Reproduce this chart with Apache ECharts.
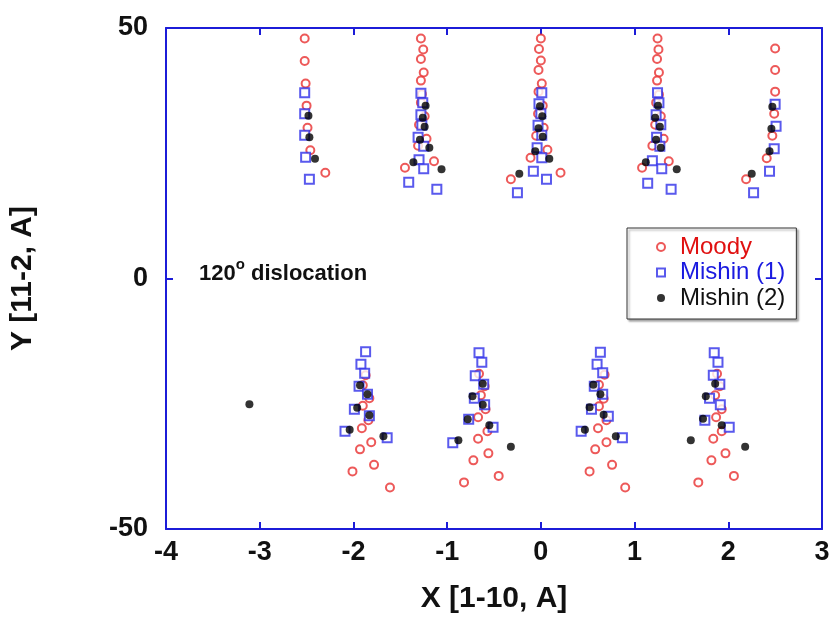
<!DOCTYPE html>
<html>
<head>
<meta charset="utf-8">
<script src="https://cdn.jsdelivr.net/npm/echarts@6/dist/echarts.min.js"></script>
<style>
  html, body { margin: 0; padding: 0; background: #fff; }
  #main { width: 833px; height: 621px; }
</style>
</head>
<body>
<div id="main"></div>
<script>
// Moody (red open circles)
const moodyX = [
  -2.52, -2.52, -2.51, -2.50, -2.49, -2.46, -2.30,
  -1.28, -1.255, -1.28, -1.25, -1.28, -1.27, -1.28, -1.24, -1.30, -1.22, -1.31, -1.14, -1.45,
  0.00, -0.02, 0.00, -0.025, 0.01, -0.025, 0.02, -0.03, 0.03, -0.05, 0.07, -0.11, 0.21, -0.32,
  1.245, 1.255, 1.24, 1.26, 1.24, 1.26, 1.23, 1.28, 1.22, 1.31, 1.19, 1.365, 1.08,
  2.50, 2.50, 2.50, 2.49, 2.47, 2.41, 2.19,
  -1.87, -1.90, -1.83, -1.90, -1.84, -1.91, -1.81, -1.93, -1.78, -2.01, -1.61,
  -0.66, -0.60, -0.64, -0.59, -0.67, -0.57, -0.67, -0.56, -0.72, -0.45, -0.82,
  0.68, 0.62, 0.67, 0.62, 0.70, 0.61, 0.70, 0.58, 0.76, 0.52, 0.90,
  1.88, 1.91, 1.86, 1.93, 1.87, 1.93, 1.84, 1.97, 1.82, 2.06, 1.68
];
const moodyY = [
  47.9, 43.4, 38.9, 34.5, 30.1, 25.6, 21.1,
  47.9, 45.7, 43.8, 41.1, 39.5, 36.8, 35.1, 32.4, 30.7, 27.9, 26.5, 23.4, 22.1,
  47.9, 45.8, 43.5, 41.6, 38.9, 37.3, 34.5, 32.9, 30.1, 28.5, 25.7, 24.1, 21.1, 19.8,
  47.9, 45.7, 43.8, 41.1, 39.5, 36.7, 35.1, 32.4, 30.7, 27.9, 26.5, 23.4, 22.1,
  45.9, 41.6, 37.3, 32.9, 28.5, 24.0, 19.8,
  -19.3, -21.3, -23.9, -25.4, -28.3, -29.9, -32.7, -34.1, -37.2, -38.5, -41.7,
  -19.0, -21.5, -23.3, -26.1, -27.7, -30.5, -32.0, -34.9, -36.3, -39.4, -40.7,
  -19.2, -21.2, -24.0, -25.5, -28.3, -29.9, -32.7, -34.1, -37.2, -38.5, -41.7,
  -19.0, -21.5, -23.3, -26.1, -27.7, -30.5, -32.0, -34.9, -36.3, -39.4, -40.7
];

// Mishin (1) (blue open squares)
const mishin1X = [
  -2.52, -2.52, -2.52, -2.51, -2.47,
  -1.28, -1.26, -1.28, -1.27, -1.31, -1.25, -1.30, -1.25, -1.41, -1.11,
  0.01, -0.02, 0.00, -0.03, 0.01, -0.04, 0.01, -0.08, 0.06, -0.25,
  1.245, 1.26, 1.23, 1.28, 1.235, 1.27, 1.19, 1.29, 1.14, 1.39,
  2.50, 2.51, 2.49, 2.44, 2.27,
  -1.87, -1.92, -1.88, -1.94, -1.85, -1.99, -1.83, -2.09, -1.64,
  -0.66, -0.63, -0.70, -0.61, -0.71, -0.60, -0.77, -0.51, -0.94,
  0.635, 0.60, 0.66, 0.57, 0.66, 0.54, 0.72, 0.43, 0.87,
  1.85, 1.89, 1.84, 1.91, 1.80, 1.915, 1.75, 2.01
];
const mishin1Y = [
  37.1, 32.9, 28.6, 24.2, 19.8,
  37.0, 35.1, 32.7, 30.6, 28.2, 26.4, 23.7, 21.9, 19.2, 17.8,
  37.1, 34.9, 32.9, 30.6, 28.6, 26.1, 24.1, 21.4, 19.8, 17.1,
  37.1, 35.1, 32.7, 30.7, 28.2, 26.4, 23.5, 21.9, 19.0, 17.8,
  34.8, 30.4, 25.9, 21.4, 17.1,
  -14.6, -17.1, -18.9, -21.5, -23.1, -26.1, -27.4, -30.5, -31.8,
  -14.8, -16.7, -19.4, -21.1, -23.9, -25.2, -28.1, -29.7, -32.8,
  -14.7, -17.1, -18.8, -21.5, -23.1, -26.1, -27.5, -30.5, -31.8,
  -14.8, -16.7, -19.3, -21.1, -23.9, -25.2, -28.3, -29.7
];

// Mishin (2) (black dots)
const mishin2X = [
  -2.48, -2.47, -2.41,
  -1.23, -1.26, -1.24, -1.29, -1.19, -1.36, -1.06,
  -0.01, 0.015, -0.025, 0.02, -0.06, 0.09, -0.23,
  1.25, 1.22, 1.27, 1.23, 1.28, 1.12, 1.45,
  2.47, 2.46, 2.44, 2.25,
  -3.11,
  -1.93, -1.85, -1.96, -1.83, -2.04, -1.68,
  -0.62, -0.73, -0.62, -0.78, -0.55, -0.88, -0.32,
  0.56, 0.635, 0.52, 0.67, 0.47, 0.80,
  1.86, 1.76, 1.73, 1.93, 1.60, 2.18
];
const mishin2Y = [
  32.5, 28.2, 23.9,
  34.5, 32.1, 30.3, 27.7, 26.1, 23.2, 21.8,
  34.4, 32.4, 30.0, 28.3, 25.4, 23.9, 20.9,
  34.5, 32.1, 30.3, 27.7, 26.1, 23.2, 21.8,
  34.3, 29.9, 25.4, 20.9,
  -25.1,
  -21.3, -23.1, -25.8, -27.3, -30.2, -31.5,
  -21.0, -23.5, -25.2, -28.1, -29.3, -32.3, -33.6,
  -21.2, -23.1, -25.7, -27.2, -30.2, -31.5,
  -21.0, -23.5, -28.0, -29.3, -32.3, -33.6
];

const seriesNames = ['Moody', 'Mishin (1)', 'Mishin (2)'];
const xTicks = { min: -4, max: 3, interval: 1 };
const yTicks = { min: -50, max: 50, interval: 50 };

const zip = (xs, ys) => xs.map((x, i) => [x, ys[i]]);

const dom = document.getElementById('main');
// eslint-disable-next-line no-undef
const myChart = echarts.init(dom);

const axisBlue = '#1c1cd8';
const labelFont = { fontFamily: 'Liberation Sans', fontWeight: 'bold', fontSize: 27, color: '#111' };
const titleFont = { fontFamily: 'Liberation Sans', fontWeight: 'bold', fontSize: 30, color: '#111' };

const baseAxis = {
  axisLine: { show: true, onZero: false, lineStyle: { color: axisBlue, width: 2 } },
  axisTick: { show: true, inside: true, length: 7, lineStyle: { color: axisBlue, width: 2 } },
  splitLine: { show: false }
};

const option = {
  animation: false,
  backgroundColor: '#fff',
  grid: { left: 165, right: 11, top: 28, bottom: 92 },
  xAxis: [
    Object.assign({}, baseAxis, {
      type: 'value', position: 'bottom',
      min: xTicks.min, max: xTicks.max, interval: xTicks.interval,
      axisLabel: Object.assign({ margin: 10 }, labelFont),
      name: 'X [1-10, A]', nameLocation: 'middle', nameGap: 55,
      nameTextStyle: titleFont
    }),
    Object.assign({}, baseAxis, {
      type: 'value', position: 'top',
      min: xTicks.min, max: xTicks.max, interval: xTicks.interval,
      axisLabel: { show: false }
    })
  ],
  yAxis: [
    Object.assign({}, baseAxis, {
      type: 'value', position: 'left',
      min: yTicks.min, max: yTicks.max, interval: yTicks.interval,
      axisLabel: Object.assign({ margin: 18 }, labelFont),
      name: 'Y [11-2, A]', nameLocation: 'middle', nameGap: 128,
      nameTextStyle: titleFont
    }),
    Object.assign({}, baseAxis, {
      type: 'value', position: 'right',
      min: yTicks.min, max: yTicks.max, interval: yTicks.interval,
      axisLabel: { show: false }
    })
  ],
  legend: {
    orient: 'vertical',
    left: 627, top: 228,
    padding: [7, 11, 9, 29],
    itemGap: 1.5,
    itemWidth: 8, itemHeight: 8,
    borderColor: '#333', borderWidth: 1,
    shadowColor: 'rgba(0,0,0,0.35)', shadowOffsetX: 2, shadowOffsetY: 2, shadowBlur: 2,
    backgroundColor: '#fff',
    textStyle: { fontFamily: 'Liberation Sans', fontSize: 24, lineHeight: 24, padding: [0, 0, 0, 10] },
    data: [
      { name: seriesNames[0], icon: 'emptyCircle', textStyle: { color: '#e01010' } },
      { name: seriesNames[1], icon: 'emptyRect', textStyle: { color: '#1a1ae0' } },
      { name: seriesNames[2], icon: 'circle', textStyle: { color: '#111' } }
    ]
  },
  graphic: [{
    type: 'text',
    left: 199, top: 257,
    style: {
      text: '{a|120}{s|o}{a| dislocation}',
      rich: {
        a: { fontFamily: 'Liberation Sans', fontWeight: 'bold', fontSize: 22, fill: '#111', verticalAlign: 'bottom', lineHeight: 28 },
        s: { fontFamily: 'Liberation Sans', fontWeight: 'bold', fontSize: 15, fill: '#111', verticalAlign: 'top', lineHeight: 28, padding: [0, 0, 11, 0] }
      }
    }
  }],
  series: [
    {
      name: seriesNames[0], type: 'scatter', data: zip(moodyX, moodyY),
      symbol: 'emptyCircle', symbolSize: 8,
      itemStyle: { color: '#e83030', borderColor: '#e83030', borderWidth: 1.3 }
    },
    {
      name: seriesNames[1], type: 'scatter', data: zip(mishin1X, mishin1Y),
      symbol: 'emptyRect', symbolSize: 9,
      itemStyle: { color: '#3030e8', borderColor: '#3030e8', borderWidth: 1.3 }
    },
    {
      name: seriesNames[2], type: 'scatter', data: zip(mishin2X, mishin2Y),
      symbol: 'circle', symbolSize: 8,
      itemStyle: { color: '#000' }
    }
  ]
};

option && myChart.setOption(option);

window.addEventListener('resize', myChart.resize);
</script>
</body>
</html>
